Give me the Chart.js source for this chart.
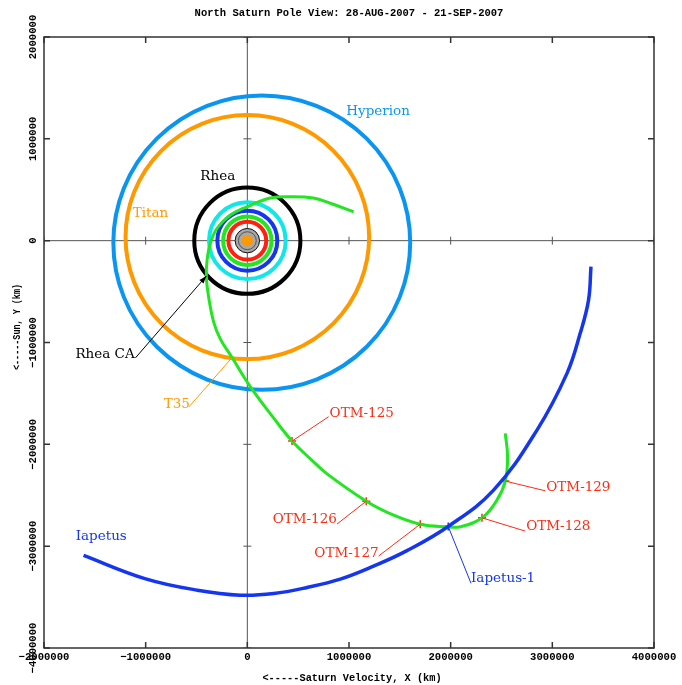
<!DOCTYPE html>
<html lang="en">

<head>
    <meta charset="UTF-8">
    <title>North Saturn Pole View</title>
    <script src="https://cdn.jsdelivr.net/npm/chart.js"></script>
    <style>
        body { margin: 0; background: #fff; }
    </style>
</head>

<body>
    <canvas id="myChart" width="682" height="685"></canvas>

    <script>
        // axis ticks (km)
        var xTicks = [-2000000, -1000000, 0, 1000000, 2000000, 3000000, 4000000];
        var yTicks = [-4000000, -3000000, -2000000, -1000000, 0, 1000000, 2000000];

        // Cassini trajectory, 28-AUG .. 21-SEP-2007 (km)
        var trajX = [1045000, 816000, 649000, 423000, 226000, -3000, -167000, -298000, -364000, -396000,
            -403000, -381000, -331000, -265000, -150000, 29000, 256000, 440000, 636000, 784000,
            1170000, 1439000, 1701000, 1973000, 2094000, 2308000, 2455000, 2537000, 2560000, 2537000];
        var trajY = [284000, 367000, 419000, 432000, 419000, 333000, 252000, 122000, -26000, -192000,
            -356000, -551000, -800000, -967000, -1148000, -1433000, -1738000, -1968000, -2157000, -2290000,
            -2558000, -2695000, -2784000, -2810000, -2810000, -2722000, -2548000, -2361000, -2125000, -1893000];

        // Iapetus path over the same period
        var iapX = [-1611000, -1008000, -492000, -69000, 259000, 587000, 914000, 1242000, 1570000,
            1979000, 2422000, 2849000, 3144000, 3274000, 3356000, 3380000];
        var iapY = [-3090000, -3318000, -3432000, -3481000, -3465000, -3406000, -3324000, -3196000, -3044000,
            -2804000, -2450000, -1860000, -1303000, -910000, -584000, -256000];

        // trajectory correction maneuvers
        var otmNames = ['OTM-125', 'OTM-126', 'OTM-127', 'OTM-128', 'OTM-129'];
        var otmX = [440000, 1170000, 1701000, 2308000, 2537000];
        var otmY = [-1968000, -2558000, -2784000, -2722000, -2361000];

        // Iapetus flyby point
        var flybyX = [1976000];
        var flybyY = [-2807000];

        // moon orbits (centre and semi axes, km)
        var orbitNames = ['Hyperion', 'Titan', 'Rhea', 'Dione', 'Tethys', 'Enceladus', 'Mimas'];
        var orbitCx = [142000, 0, 0, 0, 0, 0, 0];
        var orbitCy = [-20000, 35000, 0, 0, 0, 0, 0];
        var orbitRx = [1460000, 1198000, 522000, 377000, 295000, 238000, 186000];
        var orbitRy = [1445000, 1198000, 522000, 377000, 295000, 238000, 186000];

        // Saturn and rings (km)
        var saturnRadius = 55000;
        var ringRadii = [120000, 88000];

        // colours
        var GREEN = '#22e622';
        var IAP_BLUE = '#1436f0';
        var RED = '#ff2a10';
        var ORANGE = '#ff9900';
        var orbitColors = {
            Hyperion: '#0a96f0', Titan: ORANGE, Rhea: '#000000', Dione: '#10e8e8',
            Tethys: IAP_BLUE, Enceladus: GREEN, Mimas: '#ff2010'
        };

        var LABEL_FONT = '13.5px "DejaVu Serif"';
        var AXIS_FONT = 'bold 10.6px "Liberation Mono"';

        // text labels placed in data coordinates, leader lines end on the marks
        var notes = [
            { text: 'Hyperion', color: orbitColors.Hyperion, at: [973000, 1264000] },
            { text: 'Titan', color: ORANGE, at: [-1127000, 262000] },
            { text: 'Rhea', color: '#000', at: [-462000, 629000] },
            { text: 'Iapetus', color: IAP_BLUE, at: [-1688000, -2908000] },
            { text: 'Rhea CA', color: '#000', at: [-1691000, -1113000], from: [-1101000, -1152000], to: [-403000, -347000], arrow: true },
            { text: 'T35', color: ORANGE, at: [-823000, -1604000], from: [-573000, -1631000], to: [-150000, -1148000] },
            { text: otmNames[0], color: RED, at: [809000, -1695000], from: [799000, -1729000], to: [otmX[0], otmY[0]] },
            { text: otmNames[1], color: RED, at: [249000, -2737000], from: [882000, -2783000], to: [otmX[1], otmY[1]] },
            { text: otmNames[2], color: RED, at: [659000, -3071000], from: [1291000, -3097000], to: [otmX[2], otmY[2]] },
            { text: otmNames[3], color: RED, at: [2743000, -2809000], from: [2734000, -2852000], to: [otmX[3], otmY[3]] },
            { text: otmNames[4], color: RED, at: [2940000, -2422000], from: [2930000, -2456000], to: [otmX[4], otmY[4]] },
            { text: 'Iapetus-1', color: IAP_BLUE, at: [2200000, -3316000], from: [2200000, -3365000], to: [flybyX[0], flybyY[0]] }
        ];

        function pts(xs, ys) {
            return xs.map(function (x, i) { return { x: x, y: ys[i] }; });
        }

        // zero axes, Saturn and the moon orbits, under the trajectories
        var orbitPlugin = {
            id: 'orbits',
            beforeDatasetsDraw: function (chart) {
                var c = chart.ctx, sx = chart.scales.x, sy = chart.scales.y, a = chart.chartArea;
                c.save();
                c.beginPath();
                c.rect(a.left, a.top, a.width, a.height);
                c.clip();

                var x0 = sx.getPixelForValue(0), y0 = sy.getPixelForValue(0);
                c.strokeStyle = '#555';
                c.lineWidth = 1;
                c.beginPath();
                c.moveTo(x0, a.top); c.lineTo(x0, a.bottom);
                c.moveTo(a.left, y0); c.lineTo(a.right, y0);
                xTicks.forEach(function (v) {
                    var p = sx.getPixelForValue(v);
                    c.moveTo(p, y0 - 4); c.lineTo(p, y0 + 4);
                });
                yTicks.forEach(function (v) {
                    var p = sy.getPixelForValue(v);
                    c.moveTo(x0 - 4, p); c.lineTo(x0 + 4, p);
                });
                c.stroke();

                // rings + planet
                var rOut = sx.getPixelForValue(ringRadii[0]) - x0;
                var rIn = sx.getPixelForValue(ringRadii[1]) - x0;
                var rSat = sx.getPixelForValue(saturnRadius) - x0;
                c.fillStyle = '#a8a8a8';
                c.beginPath(); c.arc(x0, y0, rOut, 0, Math.PI * 2); c.fill();
                c.strokeStyle = '#111'; c.lineWidth = 1;
                c.beginPath(); c.arc(x0, y0, rOut, 0, Math.PI * 2); c.stroke();
                c.strokeStyle = '#555';
                c.beginPath(); c.arc(x0, y0, rIn, 0, Math.PI * 2); c.stroke();
                c.fillStyle = ORANGE;
                c.beginPath(); c.arc(x0, y0, rSat, 0, Math.PI * 2); c.fill();

                orbitNames.forEach(function (name, i) {
                    var cx = sx.getPixelForValue(orbitCx[i]);
                    var cy = sy.getPixelForValue(orbitCy[i]);
                    var rx = sx.getPixelForValue(orbitCx[i] + orbitRx[i]) - cx;
                    var ry = cy - sy.getPixelForValue(orbitCy[i] + orbitRy[i]);
                    c.strokeStyle = orbitColors[name];
                    c.lineWidth = 4;
                    c.beginPath();
                    c.ellipse(cx, cy, rx, ry, 0, 0, Math.PI * 2);
                    c.stroke();
                });
                c.restore();
            },

            // frame, ticks, labels and notes on top
            afterDraw: function (chart) {
                var c = chart.ctx, sx = chart.scales.x, sy = chart.scales.y, a = chart.chartArea;
                c.save();

                c.strokeStyle = '#333';
                c.lineWidth = 1.5;
                c.strokeRect(a.left, a.top, a.width, a.height);
                c.beginPath();
                xTicks.forEach(function (v) {
                    var p = sx.getPixelForValue(v);
                    c.moveTo(p, a.top); c.lineTo(p, a.top + 6);
                    c.moveTo(p, a.bottom); c.lineTo(p, a.bottom - 6);
                });
                yTicks.forEach(function (v) {
                    var p = sy.getPixelForValue(v);
                    c.moveTo(a.left, p); c.lineTo(a.left + 6, p);
                    c.moveTo(a.right, p); c.lineTo(a.right - 6, p);
                });
                c.stroke();

                c.fillStyle = '#000';
                c.font = AXIS_FONT;
                c.textAlign = 'center';
                c.textBaseline = 'middle';
                xTicks.forEach(function (v) {
                    c.fillText(String(v).replace('-', '\u2212'), sx.getPixelForValue(v), a.bottom + 9);
                });
                yTicks.forEach(function (v) {
                    c.save();
                    c.translate(a.left - 11, sy.getPixelForValue(v));
                    c.rotate(-Math.PI / 2);
                    c.fillText(String(v).replace('-', '\u2212'), 0, 0);
                    c.restore();
                });

                c.font = 'bold 10.5px "Liberation Mono"';
                c.fillText('North Saturn Pole View: 28-AUG-2007 - 21-SEP-2007', 349, 13);
                c.font = 'bold 10.3px "Liberation Mono"';
                c.fillText('<-----Saturn Velocity, X (km)', 352, 678);
                c.save();
                c.translate(17, 327);
                c.rotate(-Math.PI / 2);
                c.fillText('<-----Sun, Y (km)', 0, 0, 86);
                c.restore();

                // notes with leader lines
                c.font = LABEL_FONT;
                c.textAlign = 'left';
                notes.forEach(function (n) {
                    c.fillStyle = n.color;
                    c.fillText(n.text, sx.getPixelForValue(n.at[0]), sy.getPixelForValue(n.at[1]));
                    if (!n.from) return;
                    var x1 = sx.getPixelForValue(n.from[0]), y1 = sy.getPixelForValue(n.from[1]);
                    var x2 = sx.getPixelForValue(n.to[0]), y2 = sy.getPixelForValue(n.to[1]);
                    c.strokeStyle = n.color;
                    c.lineWidth = 1;
                    c.beginPath(); c.moveTo(x1, y1); c.lineTo(x2, y2); c.stroke();
                    if (n.arrow) {
                        var ang = Math.atan2(y2 - y1, x2 - x1);
                        c.beginPath();
                        c.moveTo(x2, y2);
                        c.lineTo(x2 - 8 * Math.cos(ang - 0.35), y2 - 8 * Math.sin(ang - 0.35));
                        c.lineTo(x2 - 8 * Math.cos(ang + 0.35), y2 - 8 * Math.sin(ang + 0.35));
                        c.closePath();
                        c.fill();
                    }
                });
                c.restore();
            }
        };

        const ctx = document.querySelector('#myChart');

        var myChart = new Chart(ctx, {
            type: 'scatter',
            data: {
                datasets: [
                    {
                        label: 'Iapetus',
                        data: pts(iapX, iapY),
                        showLine: true,
                        borderColor: IAP_BLUE,
                        borderWidth: 3.5,
                        pointRadius: 0,
                        tension: 0.4
                    },
                    {
                        label: 'Cassini',
                        data: pts(trajX, trajY),
                        showLine: true,
                        borderColor: GREEN,
                        borderWidth: 3,
                        pointRadius: 0,
                        tension: 0.4
                    },
                    {
                        label: 'OTM',
                        data: pts(otmX, otmY),
                        pointStyle: 'cross',
                        pointRadius: 4,
                        borderColor: RED,
                        borderWidth: 1.5
                    },
                    {
                        label: 'Iapetus-1',
                        data: pts(flybyX, flybyY),
                        pointStyle: 'cross',
                        pointRadius: 4,
                        borderColor: IAP_BLUE,
                        borderWidth: 1.5
                    }
                ]
            },
            options: {
                responsive: false,
                animation: false,
                layout: { padding: { left: 44, top: 37, right: 28, bottom: 37 } },
                plugins: { legend: { display: false }, tooltip: { enabled: false } },
                scales: {
                    x: { type: 'linear', min: -2000000, max: 4000000, display: false },
                    y: { type: 'linear', min: -4000000, max: 2000000, display: false }
                }
            },
            plugins: [orbitPlugin]
        });
    </script>

</body>

</html>
